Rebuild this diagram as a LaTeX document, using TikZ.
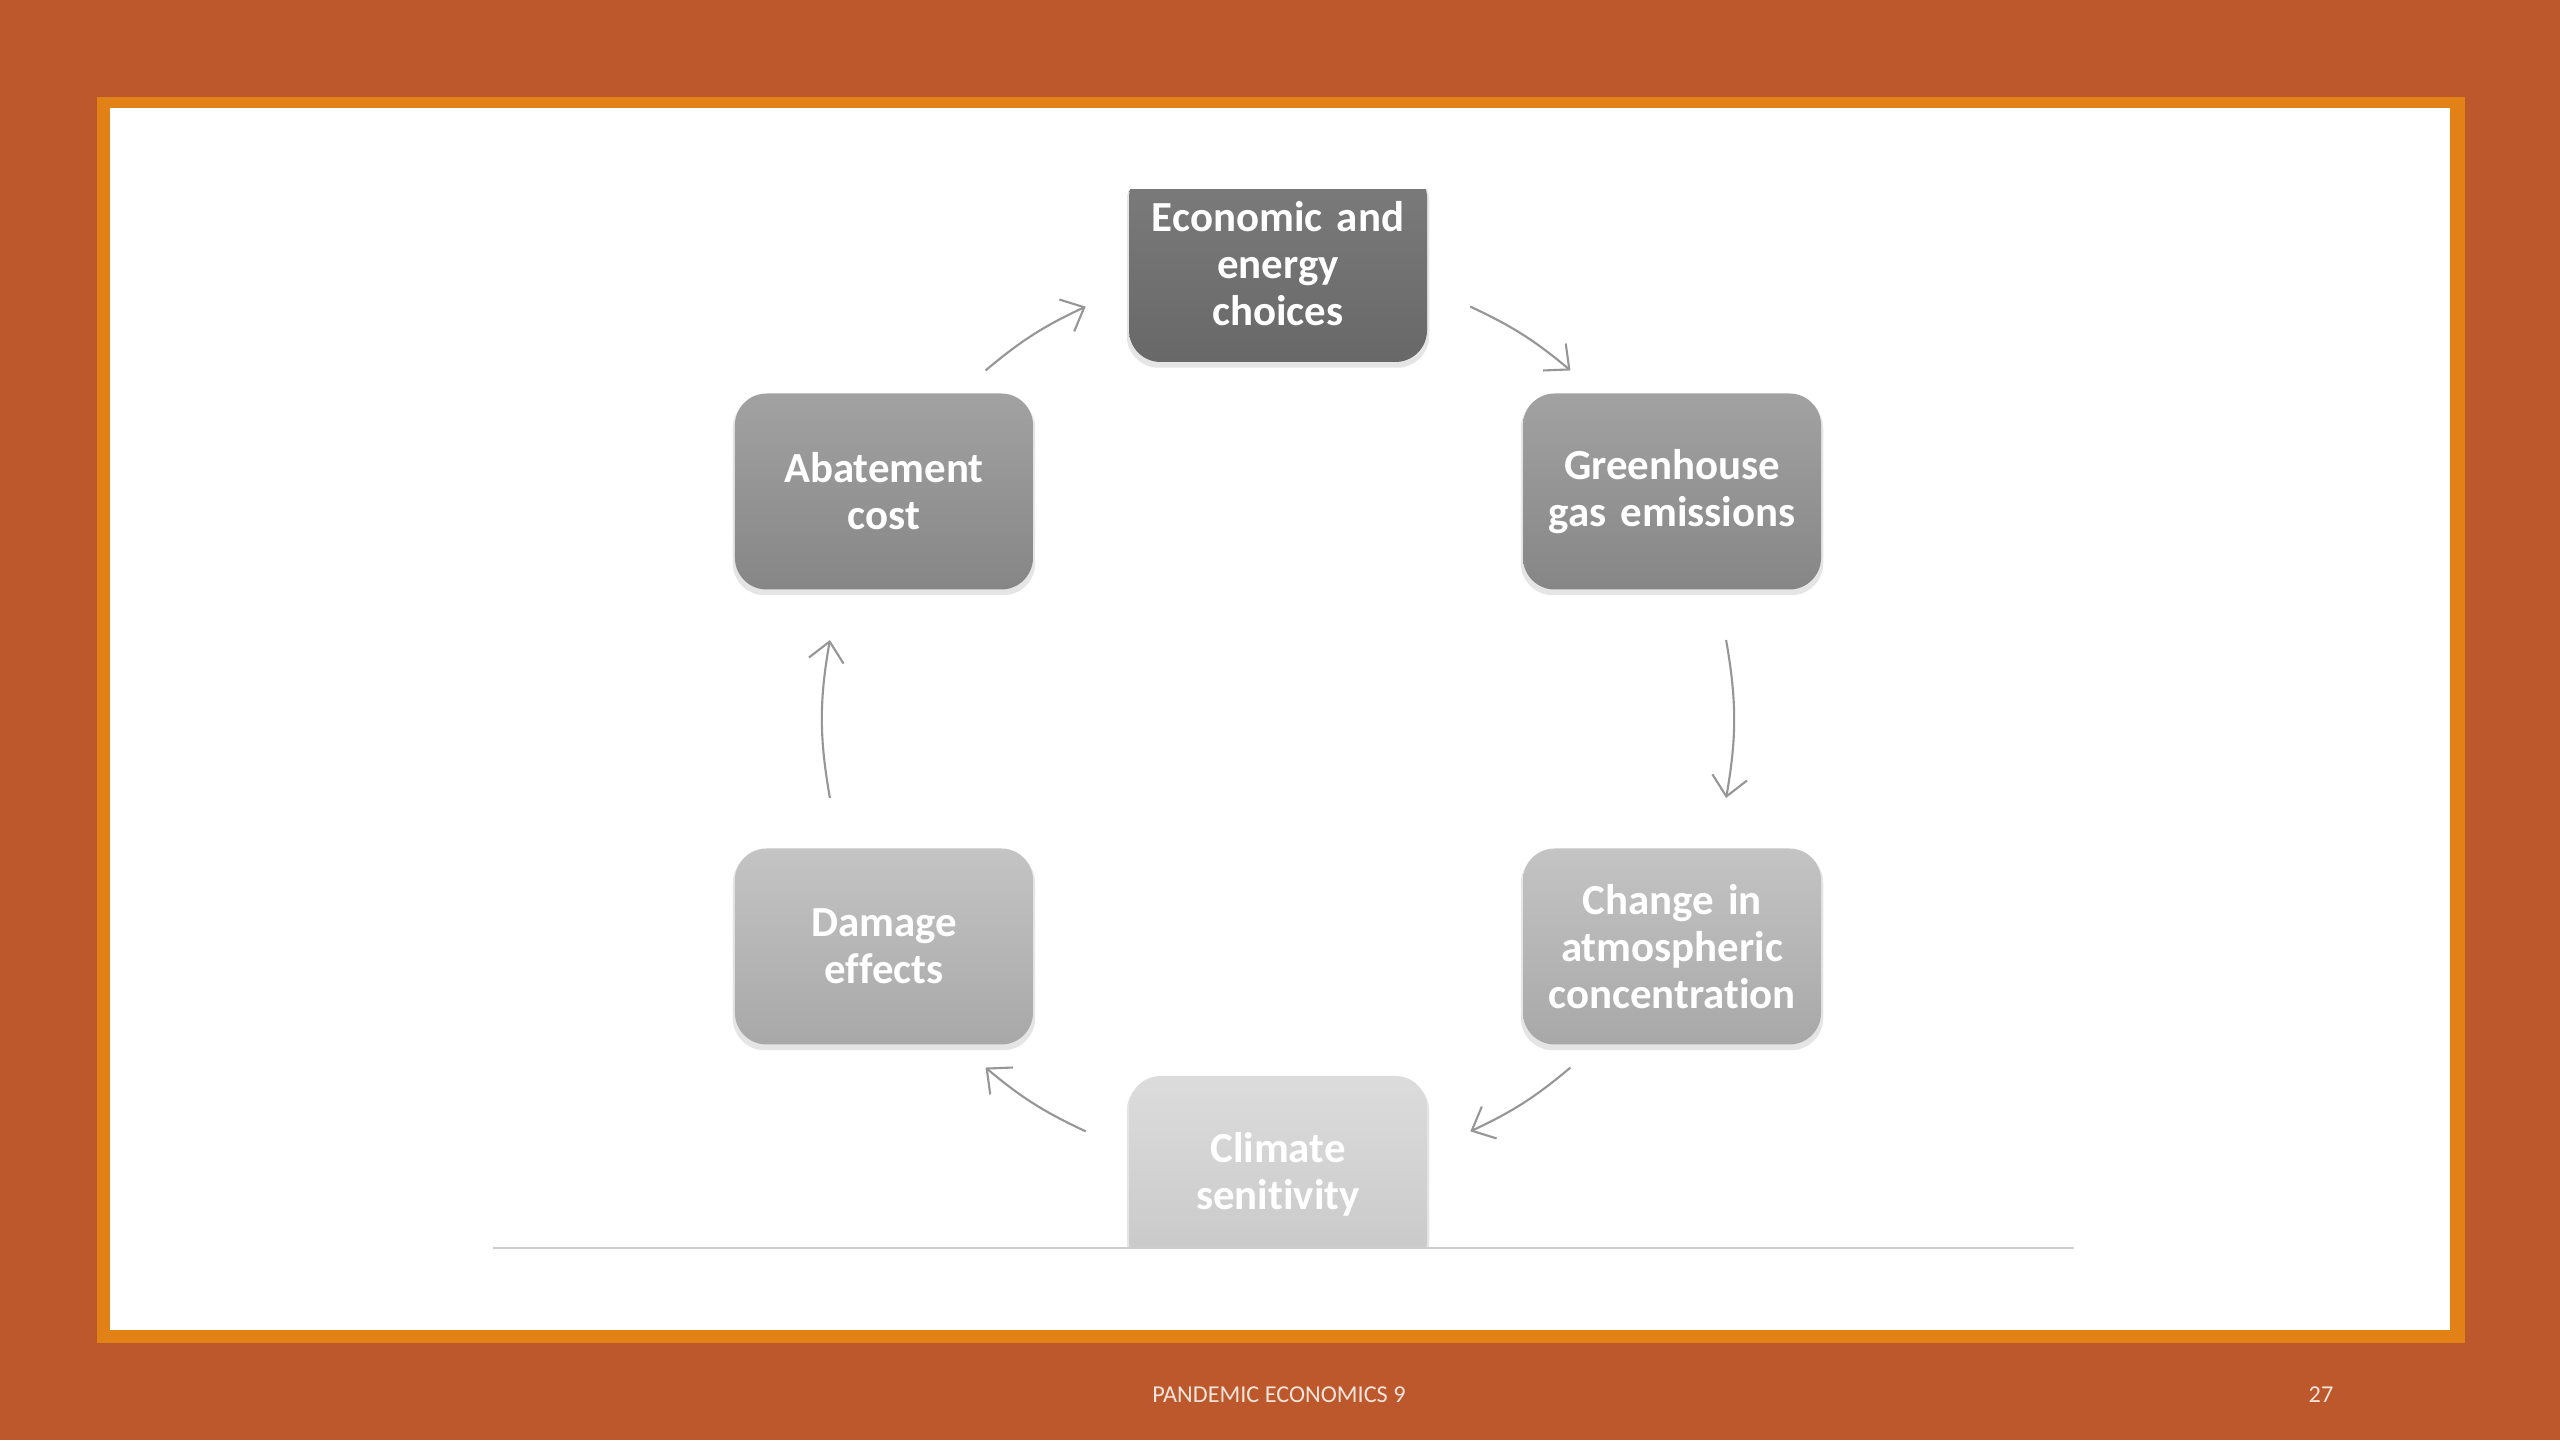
\documentclass[tikz,border=0pt]{standalone}
\usepackage{fontspec}
\setmainfont[Ligatures=NoCommon]{Carlito}
\usetikzlibrary{arrows.meta,calc,shadows,positioning}
\definecolor{slidebg}{RGB}{188,88,44}
\definecolor{framecol}{RGB}{226,130,22}
\definecolor{arrowgray}{RGB}{150,150,150}
\definecolor{rulegray}{RGB}{205,205,205}
\definecolor{footcol}{RGB}{248,228,218}
\definecolor{econtop}{RGB}{124,124,124}
\definecolor{econbot}{RGB}{104,104,104}
\definecolor{midtop}{RGB}{162,162,162}
\definecolor{midbot}{RGB}{134,134,134}
\definecolor{lowtop}{RGB}{196,196,196}
\definecolor{lowbot}{RGB}{168,168,168}
\definecolor{clitop}{RGB}{220,220,220}
\definecolor{clibot}{RGB}{200,200,200}

\begin{document}
\begin{tikzpicture}[
    cyclebox/.style 2 args={rounded corners=9pt, minimum width=2.98cm, minimum height=1.96cm,
                  inner sep=0.1cm, text width=2.78cm, align=center, text=white,
                  font=\fontsize{12.2}{13.4}\selectfont\bfseries,
                  top color=#1, bottom color=#2,
                  drop shadow={shadow xshift=0pt, shadow yshift=-1.2pt, shadow scale=1.015, opacity=0.2}},
    flow/.style={-{Straight Barb[length=5.5pt, width=10pt]}, line width=0.6pt, color=arrowgray},
    foot/.style={font=\fontsize{6.9}{8}\selectfont, color=footcol},
]

% ============ SLIDE BACKGROUND ============
\fill[slidebg] (0,0) rectangle (25.6,14.4);
\useasboundingbox (0,0) rectangle (25.6,14.4);
\fill[framecol] (0.97,0.97) rectangle (24.65,13.43);
\fill[white] (1.10,1.10) rectangle (24.50,13.32);

% ============ CYCLE BOXES ============
\coordinate (hub) at (12.78,7.21);
\begin{scope}
\clip (1.10,1.92) rectangle (24.50,12.50);
\node[cyclebox={econtop}{econbot}] at ($(hub)+(90:4.55)$) (econ) {Economic and\\energy\\choices};
\node[cyclebox={midtop}{midbot}] at ($(hub)+(30:4.55)$) (ghg) {Greenhouse\\gas emissions};
\node[cyclebox={lowtop}{lowbot}] at ($(hub)+(-30:4.55)$) (conc) {Change in\\atmospheric\\concentration};
\node[cyclebox={clitop}{clibot}] at ($(hub)+(-90:4.55)$) (climate) {Climate\\senitivity};
\node[cyclebox={lowtop}{lowbot}] at ($(hub)+(-150:4.55)$) (damage) {Damage\\effects};
\node[cyclebox={midtop}{midbot}] at ($(hub)+(150:4.55)$) (abate) {Abatement\\cost};
\end{scope}

% baseline rule under the cycle
\draw[rulegray, line width=0.6pt] (4.93,1.92) -- (20.74,1.92);

% ============ ARROWS ON THE RING ============
\coordinate (abate-out) at ($(hub)+(130:4.55)$);
\coordinate (econ-in) at ($(hub)+(115:4.55)$);
\coordinate (econ-out) at ($(hub)+(65:4.55)$);
\coordinate (ghg-in) at ($(hub)+(50:4.55)$);
\coordinate (ghg-out) at ($(hub)+(10:4.55)$);
\coordinate (conc-in) at ($(hub)+(-10:4.55)$);
\coordinate (conc-out) at ($(hub)+(-50:4.55)$);
\coordinate (climate-in) at ($(hub)+(-65:4.55)$);
\coordinate (climate-out) at ($(hub)+(-115:4.55)$);
\coordinate (damage-in) at ($(hub)+(-130:4.55)$);
\coordinate (damage-out) at ($(hub)+(-170:4.55)$);
\coordinate (abate-in) at ($(hub)+(170:4.55)$);

\draw[flow] (abate-out) to[bend left=7.5] (econ-in);
\draw[flow] (econ-out) to[bend left=7.5] (ghg-in);
\draw[flow] (ghg-out) to[bend left=10] (conc-in);
\draw[flow] (conc-out) to[bend left=7.5] (climate-in);
\draw[flow] (climate-out) to[bend left=7.5] (damage-in);
\draw[flow] (damage-out) to[bend left=10] (abate-in);

% ============ FOOTER ============
\node[foot] at (12.79,0.45) (footer) {PANDEMIC ECONOMICS 9};
\node[foot] at (23.21,0.45) (pageno) {27};

\end{tikzpicture}
\end{document}
